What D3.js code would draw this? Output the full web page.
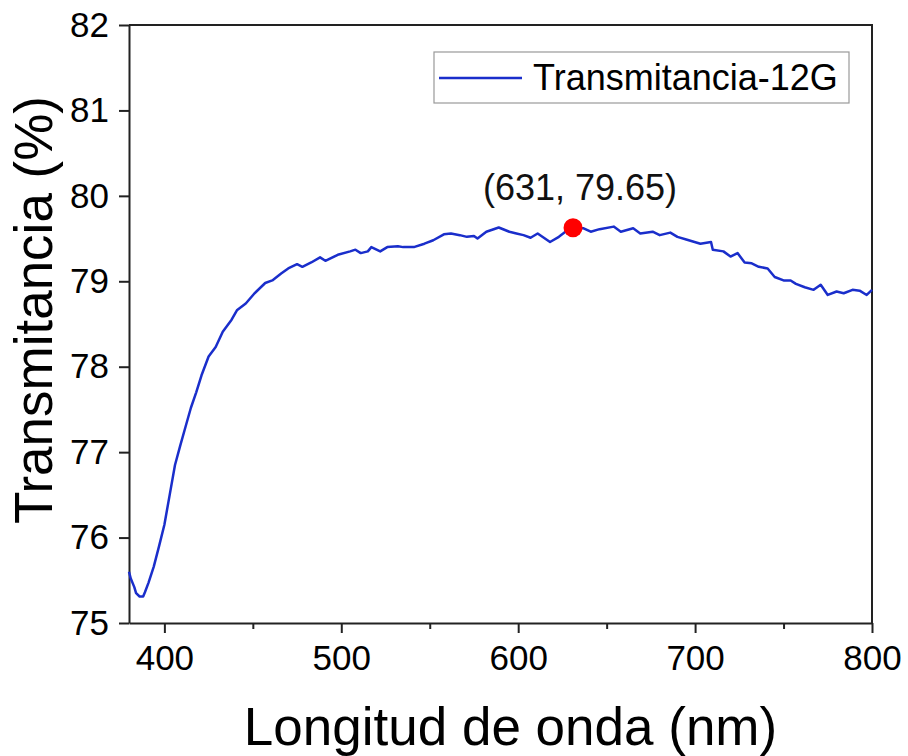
<!DOCTYPE html>
<html>
<head>
<meta charset="utf-8">
<script src="https://cdn.jsdelivr.net/npm/d3@7"></script>
<style>
  html,body{margin:0;padding:0;background:#fff;}
  svg{display:block;font-family:"Liberation Sans",Arial,sans-serif;}
</style>
</head>
<body>
<div id="chart"></div>
<script>
// ---------------------------------------------------------------------------
// Transmitancia vs longitud de onda (espectro UV-Vis, muestra 12G)
// ---------------------------------------------------------------------------

/* ----- datos ------------------------------------------------------------ */
const wavelength = [
  380,381,383,384,386,388,389,391,394,397,400,403,406,409,412,415,418,421,
  425,429,433,438,441,446,451,457,461,466,470,475,478,483,488,491,498,505,508,
  511,515,517,522,526,532,535,541,547,552,558,562,567,571,575,577,582,589,595,
  599,603,607,611,618,623,628,631,637,641,646,654,658,665,669,676,680,686,690,
  695,703,709,710,716,720,724,728,732,736,741,745,750,754,757,762,767,771,775,
  780,784,789,793,797,800
];
const transmittance = [
  75.60,75.52,75.42,75.35,75.31,75.31,75.36,75.47,75.66,75.90,76.15,76.50,76.85,
  77.08,77.30,77.52,77.70,77.90,78.12,78.23,78.41,78.55,78.66,78.74,78.86,
  78.98,79.01,79.09,79.15,79.20,79.17,79.22,79.28,79.24,79.31,79.35,79.37,79.33,
  79.35,79.40,79.35,79.40,79.41,79.40,79.40,79.44,79.48,79.55,79.56,79.54,79.52,
  79.53,79.50,79.58,79.63,79.58,79.56,79.54,79.51,79.56,79.46,79.52,79.60,79.62,
  79.62,79.58,79.61,79.64,79.58,79.62,79.56,79.58,79.54,79.57,79.52,79.49,79.44,
  79.46,79.37,79.35,79.29,79.33,79.22,79.21,79.17,79.15,79.05,79.01,79.01,78.97,
  78.93,78.90,78.96,78.84,78.88,78.86,78.90,78.89,78.84,78.90
];
const xTicks      = [400,500,600,700,800];
const xMinorTicks = [450,550,650,750];
const yTicks      = [75,76,77,78,79,80,81,82];
const peak        = {x:631, y:79.65, label:'(631, 79.65)'};
const seriesName  = 'Transmitancia-12G';

/* ----- layout ------------------------------------------------------------ */
const W = 908, H = 756;
const M = {top:25, right:36, bottom:133, left:129};
const BLUE = '#1a2ecb', AXIS = '#222';

const svg = d3.select('#chart').append('svg')
  .attr('width',W).attr('height',H);

const x = d3.scaleLinear().domain([380,800]).range([M.left, W-M.right]);
const y = d3.scaleLinear().domain([75,82]).range([H-M.bottom, M.top]);

/* ----- ejes -------------------------------------------------------------- */
const gx = svg.append('g').attr('transform',`translate(0,${H-M.bottom})`)
  .call(d3.axisBottom(x).tickValues(xTicks).tickSize(10).tickPadding(12)
        .tickSizeOuter(0));
svg.append('g').attr('transform',`translate(0,${H-M.bottom})`)
  .call(d3.axisBottom(x).tickValues(xMinorTicks).tickSize(6)
        .tickFormat('').tickSizeOuter(0))
  .select('.domain').remove();

const gy = svg.append('g').attr('transform',`translate(${M.left},0)`)
  .call(d3.axisLeft(y).tickValues(yTicks).tickFormat(d3.format('d'))
        .tickSize(10).tickPadding(10).tickSizeOuter(0));

[gx,gy].forEach(g=>{
  g.selectAll('.domain').attr('stroke',AXIS).attr('stroke-width',2);
  g.selectAll('.tick text').attr('font-size',35).attr('fill','#000')
    .attr('font-family','"Liberation Sans",Arial,sans-serif');
});
svg.selectAll('.tick line').attr('stroke',AXIS).attr('stroke-width',2);

// marco superior y derecho
svg.append('path')
  .attr('d',`M${x(380)},${y(82)}H${x(800)}V${y(75)}`)
  .attr('fill','none').attr('stroke',AXIS).attr('stroke-width',2);

/* ----- curva ------------------------------------------------------------- */
const pts = wavelength.map((w,i)=>[w,transmittance[i]]);
svg.append('path')
  .datum(pts)
  .attr('fill','none').attr('stroke',BLUE).attr('stroke-width',2.5)
  .attr('stroke-linejoin','round')
  .attr('d',d3.line().x(d=>x(d[0])).y(d=>y(d[1])));

/* ----- punto máximo + etiqueta ------------------------------------------ */
svg.append('circle')
  .attr('cx',x(peak.x)).attr('cy',y(peak.y)+2).attr('r',9.5)
  .attr('fill','#ff0000');
svg.append('text')
  .attr('x',x(peak.x)+7).attr('y',y(peak.y)-26)
  .attr('text-anchor','middle').attr('font-size',36).attr('fill','#111')
  .text(peak.label);

/* ----- leyenda ----------------------------------------------------------- */
const lg = svg.append('g').attr('transform','translate(434,52)');
lg.append('rect').attr('width',415).attr('height',51)
  .attr('fill','#fff').attr('stroke','#999').attr('stroke-width',1.2);
lg.append('line').attr('x1',5).attr('x2',88).attr('y1',26).attr('y2',26)
  .attr('stroke',BLUE).attr('stroke-width',2.5);
lg.append('text').attr('x',99).attr('y',38)
  .attr('font-size',36).attr('fill','#000').text(seriesName);

/* ----- títulos ----------------------------------------------------------- */
svg.append('text')
  .attr('x',(x(380)+x(800))/2+10).attr('y',745)
  .attr('text-anchor','middle').attr('font-size',53).attr('fill','#000')
  .text('Longitud de onda (nm)');
svg.append('text')
  .attr('transform','translate(52,310) rotate(-90)')
  .attr('text-anchor','middle').attr('font-size',53).attr('fill','#000')
  .text('Transmitancia (%)');
</script>
</body>
</html>
